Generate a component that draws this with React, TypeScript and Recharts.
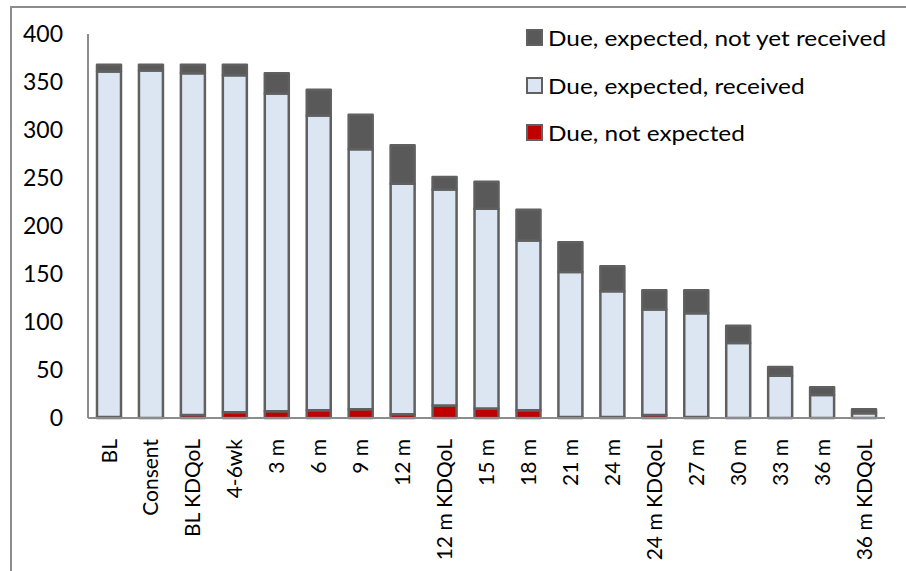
import { BarChart, Bar, XAxis, YAxis, Legend } from 'recharts';

const categories = [
  'BL', 'Consent', 'BL KDQoL', '4-6wk', '3 m', '6 m', '9 m', '12 m', '12 m KDQoL', '15 m',
  '18 m', '21 m', '24 m', '24 m KDQoL', '27 m', '30 m', '33 m', '36 m', '36 m KDQoL',
];
const notExpected = [1, 0, 3, 6, 7, 8, 9, 4, 13, 10, 8, 1, 1, 3, 1, 0, 0, 0, 0];
const received = [360, 362, 356, 351, 331, 307, 271, 240, 225, 208, 177, 151, 131, 110, 108, 78, 44, 24, 5];
const notYetReceived = [7, 6, 9, 11, 21, 27, 36, 40, 13, 28, 32, 31, 26, 20, 24, 18, 9, 8, 4];
const yTicks = [0, 50, 100, 150, 200, 250, 300, 350, 400];

const series = [
  { key: 'notExpected', name: 'Due, not expected', color: '#c00000' },
  { key: 'received', name: 'Due, expected, received', color: '#dce6f2' },
  { key: 'notYet', name: 'Due, expected, not yet received', color: '#595959' },
];

const data = categories.map((c, i) => ({
  cat: c,
  notExpected: notExpected[i],
  received: received[i],
  notYet: notYetReceived[i],
}));

const FONT = 'Lato, "Open Sans", sans-serif';
const EDGE = '#606060';

function XTick(props: any) {
  const { x, y, payload } = props;
  return (
    <text
      x={x}
      y={y + 19}
      transform={`rotate(-90, ${x}, ${y + 19})`}
      textAnchor="end"
      dy="0.36em"
      fontSize={21}
      fontFamily={FONT}
      fill="#000"
    >
      {payload.value}
    </text>
  );
}

function LegendBox() {
  const items = [...series].reverse();
  return (
    <div style={{ fontFamily: FONT, fontSize: 21, color: '#000' }}>
      {items.map((s) => (
        <div key={s.key} style={{ display: 'flex', alignItems: 'center', height: 47.5 }}>
          <span
            style={{
              display: 'inline-block',
              width: 13,
              height: 13,
              background: s.color,
              border: `2px solid ${EDGE}`,
              marginRight: 5,
            }}
          />
          <span
            style={{
              display: 'inline-block',
              whiteSpace: 'nowrap',
              transform: 'scaleX(1.16)',
              transformOrigin: 'left center',
            }}
          >
            {s.name}
          </span>
        </div>
      ))}
    </div>
  );
}

export default function App() {
  return (
    <div style={{ position: 'fixed', left: 0, top: 0, width: 906, height: 571, overflow: 'hidden', background: '#fff' }}>
      <div
        style={{
          position: 'absolute',
          left: 10,
          top: 6,
          width: 1000,
          height: 700,
          borderLeft: '2px solid #8c8c8c',
          borderTop: '2px solid #8c8c8c',
        }}
      />
      <div style={{ position: 'absolute', left: 0, top: 0 }}>
        <BarChart
          width={906}
          height={571}
          data={data}
          margin={{ top: 34, right: 21, bottom: 0, left: 10 }}
          barSize={24}
        >
          <XAxis
            dataKey="cat"
            interval={0}
            height={153}
            tickLine={false}
            tickSize={0}
            tick={<XTick />}
            axisLine={{ stroke: '#8c8c8c', strokeWidth: 2 }}
          />
          <YAxis
            width={78}
            domain={[0, 400]}
            ticks={yTicks}
            tickLine={false}
            tickSize={0}
            tickMargin={25}
            axisLine={{ stroke: '#8c8c8c', strokeWidth: 2 }}
            tick={{ fontSize: 23, fontFamily: FONT, fill: '#000' }}
          />
          <Legend
            verticalAlign="middle"
            align="center"
            layout="horizontal"
            wrapperStyle={{ left: 526, top: 14, width: 380 }}
            content={<LegendBox />}
          />
          {series.map((s) => (
            <Bar
              key={s.key}
              dataKey={s.key}
              name={s.name}
              stackId="a"
              fill={s.color}
              stroke={EDGE}
              strokeWidth={2.5}
              strokeLinejoin="round"
              isAnimationActive={false}
            />
          ))}
        </BarChart>
      </div>
    </div>
  );
}
